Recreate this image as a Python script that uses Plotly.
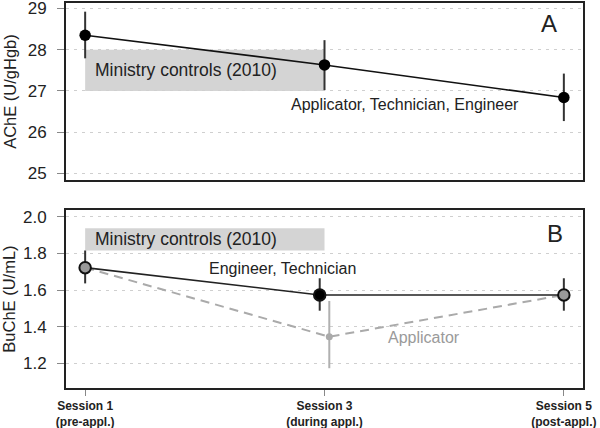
import plotly.graph_objects as go

# ---- data ----
sessions = [1, 3, 5]
tick_text = ["<b>Session 1</b><br><b>(pre-appl.)</b>",
             "<b>Session 3</b><br><b>(during appl.)</b>",
             "<b>Session 5</b><br><b>(post-appl.)</b>"]

ache_mean = [28.35, 27.63, 26.84]
ache_low = [27.79, 27.02, 26.27]
ache_high = [28.92, 28.23, 27.42]

buche_et_mean = [1.722, 1.573, 1.573]
buche_et_low = [1.636, 1.487, 1.487]
buche_et_high = [1.815, 1.664, 1.664]

buche_app_mean = [1.722, 1.345, 1.573]
buche_app_low = [1.636, 1.173, 1.487]
buche_app_high = [1.815, 1.540, 1.664]

ministry_ache = [27.0, 28.0]
ministry_buche = [1.815, 1.937]

# ---- styling ----
FONT = "Arial, Liberation Sans, Helvetica, sans-serif"
TXT = "#222222"
dodge = 0.04
x_et = [sessions[0], sessions[1] - dodge, sessions[2]]
x_app = [sessions[0], sessions[1] + dodge, sessions[2]]

fig = go.Figure()

# Panel A
fig.add_trace(go.Scatter(
    x=sessions, y=ache_mean, mode="lines+markers",
    line=dict(color="#111111", width=1.6),
    marker=dict(color="#000000", size=11.5),
    error_y=dict(type="data", symmetric=False,
                 array=[h - m for h, m in zip(ache_high, ache_mean)],
                 arrayminus=[m - l for l, m in zip(ache_low, ache_mean)],
                 color="#333333", thickness=2, width=0),
    xaxis="x", yaxis="y", showlegend=False, hoverinfo="skip"))

# Panel B - applicator dashed line
fig.add_trace(go.Scatter(
    x=x_app, y=buche_app_mean, mode="lines",
    line=dict(color="#aaaaaa", width=2, dash="9px,6px"),
    xaxis="x2", yaxis="y2", showlegend=False, hoverinfo="skip"))
fig.add_trace(go.Scatter(
    x=[x_app[1]], y=[buche_app_mean[1]], mode="markers",
    marker=dict(color="#aaaaaa", size=7),
    error_y=dict(type="data", symmetric=False,
                 array=[buche_app_high[1] - buche_app_mean[1]],
                 arrayminus=[buche_app_mean[1] - buche_app_low[1]],
                 color="#b0b0b0", thickness=2, width=0),
    xaxis="x2", yaxis="y2", showlegend=False, hoverinfo="skip"))

# Panel B - engineer / technician
fig.add_trace(go.Scatter(
    x=x_et, y=buche_et_mean, mode="lines+markers",
    line=dict(color="#222222", width=1.6),
    marker=dict(color=["#999999", "#000000", "#999999"], size=11.5,
                line=dict(color="#111111", width=2)),
    error_y=dict(type="data", symmetric=False,
                 array=[h - m for h, m in zip(buche_et_high, buche_et_mean)],
                 arrayminus=[m - l for l, m in zip(buche_et_low, buche_et_mean)],
                 color="#333333", thickness=2, width=0),
    xaxis="x2", yaxis="y2", showlegend=False, hoverinfo="skip"))

shapes = [
    dict(type="rect", xref="x", yref="y", x0=sessions[0], x1=sessions[1],
         y0=ministry_ache[0], y1=ministry_ache[1],
         fillcolor="#d4d4d4", line=dict(width=0), layer="below"),
    dict(type="rect", xref="x2", yref="y2", x0=sessions[0], x1=sessions[1],
         y0=ministry_buche[0], y1=ministry_buche[1],
         fillcolor="#d4d4d4", line=dict(width=0), layer="below"),
]

annotations = [
    dict(text="Ministry controls (2010)", x=sessions[0] + 0.067, y=sum(ministry_ache) / 2,
         xref="x", yref="y", xanchor="left", yanchor="middle", showarrow=False,
         font=dict(family=FONT, size=17.5, color=TXT)),
    dict(text="Applicator, Technician, Engineer", x=3.67, y=26.66,
         xref="x", yref="y", xanchor="center", yanchor="middle", showarrow=False,
         font=dict(family=FONT, size=16, color=TXT)),
    dict(text="A", x=4.88, y=28.64, xref="x", yref="y", showarrow=False,
         font=dict(family=FONT, size=24, color=TXT)),
    dict(text="Ministry controls (2010)", x=sessions[0] + 0.067, y=sum(ministry_buche) / 2,
         xref="x2", yref="y2", xanchor="left", yanchor="middle", showarrow=False,
         font=dict(family=FONT, size=17.5, color=TXT)),
    dict(text="Engineer, Technician", x=2.65, y=1.72,
         xref="x2", yref="y2", xanchor="center", yanchor="middle", showarrow=False,
         font=dict(family=FONT, size=16, color=TXT)),
    dict(text="Applicator", x=3.83, y=1.338,
         xref="x2", yref="y2", xanchor="center", yanchor="middle", showarrow=False,
         font=dict(family=FONT, size=16, color="#9a9a9a")),
    dict(text="B", x=4.93, y=1.91, xref="x2", yref="y2", showarrow=False,
         font=dict(family=FONT, size=24, color=TXT)),
]

frame = dict(showline=True, mirror=True, linecolor="#222222", linewidth=2,
             zeroline=False, automargin=False, ticklabeloverflow="allow")
yaxis_common = dict(
    **frame, showgrid=True, gridcolor="#cfcfcf", gridwidth=1, griddash="3px,5px",
    ticks="outside", ticklen=7, tickcolor="#888888", tickwidth=1,
    ticklabelstandoff=7,
    tickfont=dict(family=FONT, size=17, color=TXT),
)

fig.update_layout(
    width=600, height=428,
    margin=dict(l=66, r=17, t=3, b=40),
    paper_bgcolor="white", plot_bgcolor="white",
    font=dict(family=FONT, color=TXT),
    xaxis=dict(**frame, domain=[0, 1], range=[0.84, 5.16], showgrid=False,
               showticklabels=False, ticks="", anchor="y"),
    yaxis=dict(**yaxis_common, domain=[0.540, 1], range=[24.84, 29.13],
               tickvals=[25, 26, 27, 28, 29], anchor="x",
               title=dict(text="AChE (U/gHgb)", standoff=7,
                          font=dict(family=FONT, size=16.5, color=TXT))),
    xaxis2=dict(**frame, domain=[0, 1], range=[0.84, 5.16], showgrid=False,
                tickvals=sessions, ticktext=tick_text, ticks="outside",
                ticklen=6, tickcolor="#888888", tickwidth=1, anchor="y2",
                ticklabelstandoff=0,
                tickfont=dict(family=FONT, size=12, color=TXT)),
    yaxis2=dict(**yaxis_common, domain=[0, 0.462], range=[1.065, 2.036],
                tickvals=[1.2, 1.4, 1.6, 1.8, 2.0], tickformat=".1f", anchor="x2",
                title=dict(text="BuChE (U/mL)", standoff=7,
                           font=dict(family=FONT, size=16.5, color=TXT))),
    shapes=shapes,
    annotations=annotations,
)

fig.write_html(
    "out.html",
    config={"displayModeBar": False},
    post_script="document.body.style.margin='0';document.body.style.padding='0';"
                "document.documentElement.style.overflow='hidden';",
)
